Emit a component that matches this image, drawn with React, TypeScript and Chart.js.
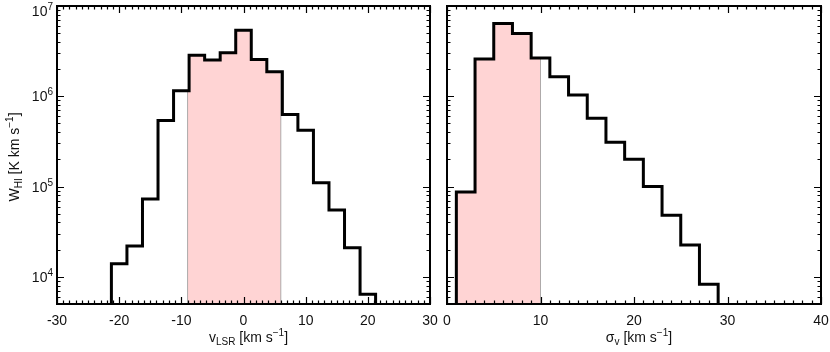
import React, { useEffect, useRef } from 'react';
import { Chart, registerables } from 'chart.js';

Chart.register(...registerables);

// ---- data ----
const vlsrCenters = [-20, -17.5, -15, -12.5, -10, -7.5, -5, -2.5, 0, 2.5, 5, 7.5, 10, 12.5, 15, 17.5, 20];
const vlsrValues = [14000, 22000, 73000, 540000, 1150000, 2840000, 2520000, 3030000, 5400000, 2560000, 1870000, 630000, 420000, 110000, 55000, 21000, 6400];
const vlsrBinWidth = 2.5;
const vlsrShade = [-9, 6];
const vlsrTicks = [-30, -20, -10, 0, 10, 20, 30];

const sigmaCenters = [2, 4, 6, 8, 10, 12, 14, 16, 18, 20, 22, 24, 26, 28];
const sigmaValues = [87000, 2580000, 6400000, 4950000, 2650000, 1650000, 1030000, 570000, 310000, 200000, 100000, 48000, 22500, 8300];
const sigmaBinWidth = 2;
const sigmaShade = [1, 10];
const sigmaTicks = [0, 10, 20, 30, 40];

const yExponents = [4, 5, 6, 7];
const Y_MIN = 5000;
const Y_MAX = 1e7;

const FONT = '"Liberation Sans", Arial, Helvetica, sans-serif';
const TEXT = '#111';

type Part = { t: string; k?: 'sub' | 'sup' };

function outline(centers: number[], values: number[], w: number) {
  const pts = [{ x: centers[0] - w / 2, y: Y_MIN }];
  centers.forEach((c, i) => pts.push({ x: c + w / 2, y: values[i] }));
  pts.push({ x: centers[centers.length - 1] + w / 2, y: Y_MIN });
  return pts;
}

function shade(centers: number[], values: number[], w: number, range: number[]) {
  const [a, b] = range;
  const pts = [{ x: a, y: Y_MIN }];
  centers.forEach((c, i) => {
    const L = c - w / 2;
    const R = c + w / 2;
    if (R > a && L < b) pts.push({ x: Math.min(R, b), y: values[i] });
  });
  pts.push({ x: b, y: Y_MIN });
  return pts;
}

function drawRich(ctx: CanvasRenderingContext2D, parts: Part[], x: number, y: number, size: number, align: 'left' | 'center' | 'right') {
  const small = Math.round(size * 0.72);
  const widths = parts.map((p) => {
    ctx.font = `${p.k ? small : size}px ${FONT}`;
    return ctx.measureText(p.t).width;
  });
  const total = widths.reduce((s, v) => s + v, 0);
  let cx = align === 'center' ? x - total / 2 : align === 'right' ? x - total : x;
  ctx.textAlign = 'left';
  ctx.textBaseline = 'alphabetic';
  parts.forEach((p, i) => {
    ctx.font = `${p.k ? small : size}px ${FONT}`;
    const dy = p.k === 'sub' ? size * 0.18 : p.k === 'sup' ? -size * 0.42 : 0;
    ctx.fillText(p.t, cx, y + dy);
    cx += widths[i];
  });
}

function makeFramePlugin(opts: {
  xTicks: number[];
  xTitle: Part[];
  yLabels: boolean;
}) {
  return {
    id: 'frame',
    afterDatasetsDraw(chart: any) {
      const ctx: CanvasRenderingContext2D = chart.ctx;
      const { left, right, top, bottom } = chart.chartArea;
      const xs = chart.scales.x;
      const ys = chart.scales.y;
      ctx.save();
      ctx.strokeStyle = '#000';
      // ticks x
      ctx.lineWidth = 1.2;
      const xmin = xs.min;
      const xmax = xs.max;
      ctx.beginPath();
      for (let v = Math.ceil(xmin); v <= xmax; v += 1) {
        const px = Math.round(xs.getPixelForValue(v)) + 0.5;
        const len = v % 10 === 0 ? 7 : 3.5;
        ctx.moveTo(px, bottom);
        ctx.lineTo(px, bottom - len);
        ctx.moveTo(px, top);
        ctx.lineTo(px, top + len);
      }
      // ticks y
      for (let d = 3; d <= 7; d++) {
        for (let k = 1; k <= 9; k++) {
          const val = k * Math.pow(10, d);
          if (val < Y_MIN || val > Y_MAX) continue;
          const py = Math.round(ys.getPixelForValue(val)) + 0.5;
          const len = k === 1 ? 7 : 3.5;
          ctx.moveTo(left, py);
          ctx.lineTo(left + len, py);
          ctx.moveTo(right, py);
          ctx.lineTo(right - len, py);
        }
      }
      ctx.stroke();
      // frame
      ctx.lineWidth = 2;
      ctx.strokeRect(left, top, right - left, bottom - top);

      // labels
      ctx.fillStyle = TEXT;
      ctx.font = `14px ${FONT}`;
      ctx.textAlign = 'center';
      ctx.textBaseline = 'alphabetic';
      opts.xTicks.forEach((v) => {
        ctx.fillText(String(v), xs.getPixelForValue(v), 325);
      });
      drawRich(ctx, opts.xTitle, (left + right) / 2 + 5, 342, 14, 'center');

      if (opts.yLabels) {
        yExponents.forEach((e) => {
          const py = Math.max(ys.getPixelForValue(Math.pow(10, e)), 11);
          drawRich(ctx, [{ t: '10' }, { t: String(e), k: 'sup' }], 53, py + 5, 14, 'right');
        });
        ctx.save();
        ctx.translate(19, (top + bottom) / 2 + 2);
        ctx.rotate(-Math.PI / 2);
        drawRich(
          ctx,
          [{ t: 'W' }, { t: 'HI', k: 'sub' }, { t: ' [K km s' }, { t: '\u22121', k: 'sup' }, { t: ']' }],
          0,
          0,
          14,
          'center'
        );
        ctx.restore();
      }
      ctx.restore();
    },
  };
}

function buildConfig(
  centers: number[],
  values: number[],
  w: number,
  range: number[],
  xmin: number,
  xmax: number,
  padding: any,
  plugin: any
): any {
  return {
    type: 'line',
    data: {
      datasets: [
        {
          data: outline(centers, values, w),
          stepped: 'after',
          borderColor: '#000',
          borderWidth: 3,
          fill: false,
          pointRadius: 0,
          order: 0,
        },
        {
          data: shade(centers, values, w, range),
          stepped: 'after',
          borderColor: 'rgba(140,140,140,0.7)',
          borderWidth: 1,
          backgroundColor: 'rgb(255,212,212)',
          fill: 'start',
          pointRadius: 0,
          order: 1,
        },
      ],
    },
    options: {
      animation: false,
      responsive: false,
      maintainAspectRatio: false,
      layout: { padding },
      plugins: { legend: { display: false }, tooltip: { enabled: false } },
      scales: {
        x: { type: 'linear', min: xmin, max: xmax, display: false },
        y: { type: 'logarithmic', min: Y_MIN, max: Y_MAX, display: false },
      },
    },
    plugins: [plugin],
  };
}

export default function App() {
  const leftRef = useRef<HTMLCanvasElement>(null);
  const rightRef = useRef<HTMLCanvasElement>(null);

  useEffect(() => {
    const c1 = new Chart(
      leftRef.current!,
      buildConfig(
        vlsrCenters,
        vlsrValues,
        vlsrBinWidth,
        vlsrShade,
        -30,
        30,
        { left: 57, right: 10, top: 6, bottom: 48 },
        makeFramePlugin({
          xTicks: vlsrTicks,
          xTitle: [{ t: 'v' }, { t: 'LSR', k: 'sub' }, { t: ' [km s' }, { t: '\u22121', k: 'sup' }, { t: ']' }],
          yLabels: true,
        })
      )
    );
    const c2 = new Chart(
      rightRef.current!,
      buildConfig(
        sigmaCenters,
        sigmaValues,
        sigmaBinWidth,
        sigmaShade,
        0,
        40,
        { left: 7, right: 9, top: 6, bottom: 48 },
        makeFramePlugin({
          xTicks: sigmaTicks,
          xTitle: [{ t: '\u03c3' }, { t: 'v', k: 'sub' }, { t: ' [km s' }, { t: '\u22121', k: 'sup' }, { t: ']' }],
          yLabels: false,
        })
      )
    );
    return () => {
      c1.destroy();
      c2.destroy();
    };
  }, []);

  return (
    <div style={{ position: 'absolute', left: 0, top: 0, width: 830, height: 352, background: '#fff' }}>
      <canvas ref={leftRef} width={440} height={352} style={{ position: 'absolute', left: 0, top: 0 }} />
      <canvas ref={rightRef} width={390} height={352} style={{ position: 'absolute', left: 440, top: 0 }} />
    </div>
  );
}
